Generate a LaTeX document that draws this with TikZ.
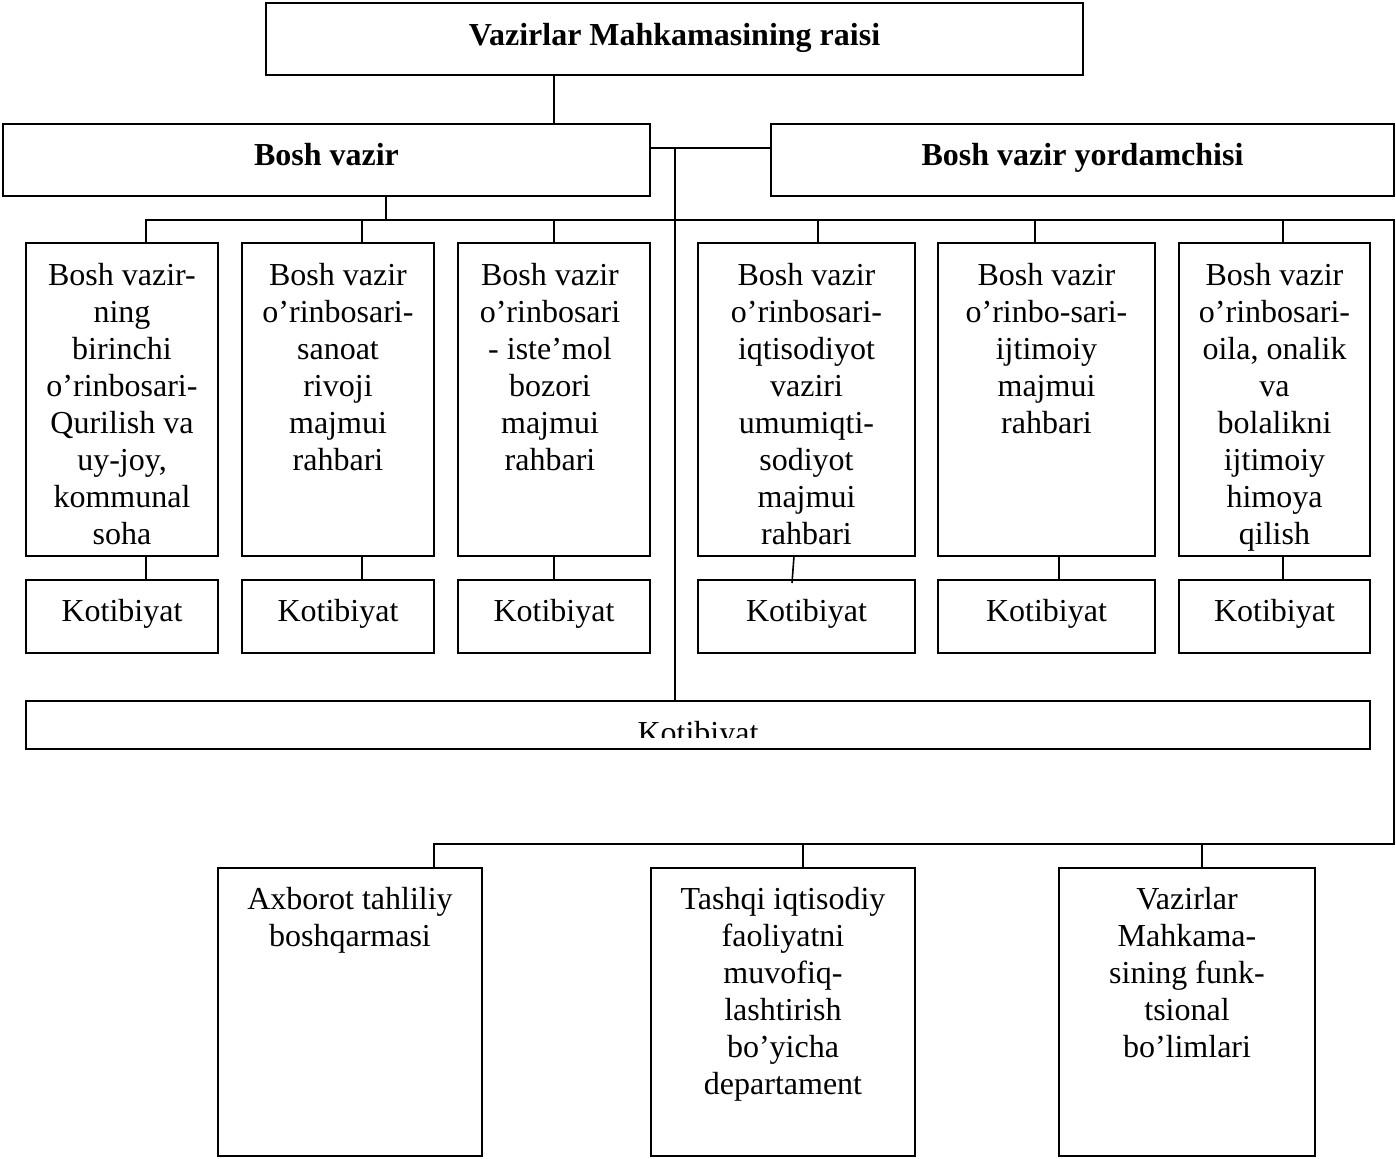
\documentclass[tikz,border=0pt]{standalone}
\usepackage{fontspec}
\setmainfont{Liberation Serif}
\begin{document}
\begin{tikzpicture}[x=1pt,y=-1pt,line width=1.6pt,
  box/.style={draw,rectangle,inner sep=0pt,outer sep=0pt},
  txt/.style={anchor=north,align=center,inner sep=0pt,font=\fontsize{32}{37}\selectfont},
  one/.style={anchor=base,inner sep=0pt,font=\fontsize{32}{37}\selectfont},
  bold/.style={anchor=base,inner sep=0pt,font=\fontsize{32}{37}\selectfont\bfseries},
  link/.style={line width=1.6pt}]
\useasboundingbox (0,0) rectangle (1396,1158);
% top level
\node[box,minimum width=817pt,minimum height=72pt] (top) at (674.5,39) {};
\node[bold] (toptxt) at (674.5,46) {Vazirlar Mahkamasining raisi};
\node[box,minimum width=647pt,minimum height=72pt] (bv) at (326.5,160) {};
\node[bold] (bvtxt) at (326.5,166) {Bosh vazir};
\node[box,minimum width=623pt,minimum height=72pt] (bvy) at (1082.5,160) {};
\node[bold] (bvytxt) at (1082.5,166) {Bosh vazir yordamchisi};
% deputies
\node[box,minimum width=192pt,minimum height=313pt] (b1) at (122,399.5) {};
\node[box,minimum width=192pt,minimum height=313pt] (b2) at (338,399.5) {};
\node[box,minimum width=192pt,minimum height=313pt] (b3) at (554,399.5) {};
\node[box,minimum width=217pt,minimum height=313pt] (b4) at (806.5,399.5) {};
\node[box,minimum width=217pt,minimum height=313pt] (b5) at (1046.5,399.5) {};
\node[box,minimum width=191pt,minimum height=313pt] (b6) at (1274.5,399.5) {};
\node[txt] (t1) at ([yshift=-19pt]b1.north) {Bosh vazir-\\ning\\birinchi\\o’rinbosari-\\Qurilish va\\uy-joy,\\kommunal\\soha};
\node[txt] (t2) at ([yshift=-19pt]b2.north) {Bosh vazir\\o’rinbosari-\\sanoat\\rivoji\\majmui\\rahbari};
\node[txt] (t3) at ([xshift=-4pt,yshift=-19pt]b3.north) {Bosh vazir\\o’rinbosari\\- iste’mol\\bozori\\majmui\\rahbari};
\node[txt] (t4) at ([yshift=-19pt]b4.north) {Bosh vazir\\o’rinbosari-\\iqtisodiyot\\vaziri\\umumiqti-\\sodiyot\\majmui\\rahbari};
\node[txt] (t5) at ([yshift=-19pt]b5.north) {Bosh vazir\\o’rinbo-sari-\\ijtimoiy\\majmui\\rahbari};
\node[txt] (t6) at ([yshift=-19pt]b6.north) {Bosh vazir\\o’rinbosari-\\oila, onalik\\va\\bolalikni\\ijtimoiy\\himoya\\qilish};
% secretariats
\node[box,minimum width=192pt,minimum height=73pt] (k1) at (122,616.5) {};
\node[box,minimum width=192pt,minimum height=73pt] (k2) at (338,616.5) {};
\node[box,minimum width=192pt,minimum height=73pt] (k3) at (554,616.5) {};
\node[box,minimum width=217pt,minimum height=73pt] (k4) at (806.5,616.5) {};
\node[box,minimum width=217pt,minimum height=73pt] (k5) at (1046.5,616.5) {};
\node[box,minimum width=191pt,minimum height=73pt] (k6) at (1274.5,616.5) {};
\node[one] (kt1) at (122,621) {Kotibiyat};
\node[one] (kt2) at (338,621) {Kotibiyat};
\node[one] (kt3) at (554,621) {Kotibiyat};
\node[one] (kt4) at (806.5,621) {Kotibiyat};
\node[one] (kt5) at (1046.5,621) {Kotibiyat};
\node[one] (kt6) at (1274.5,621) {Kotibiyat};
% wide secretariat
\node[box,minimum width=1344pt,minimum height=48pt] (kw) at (698,725) {};
\begin{scope}
\clip (0,700) rectangle (1396,737);
\node[one] (kwt) at (698,743) {Kotibiyat};
\end{scope}
% bottom units
\node[box,minimum width=264pt,minimum height=288pt] (ba) at (350,1012) {};
\node[box,minimum width=264pt,minimum height=288pt] (bb) at (783,1012) {};
\node[box,minimum width=256pt,minimum height=288pt] (bc) at (1187,1012) {};
\node[txt] (ta) at ([yshift=-18pt]ba.north) {Axborot tahliliy\\boshqarmasi};
\node[txt] (tb) at ([yshift=-18pt]bb.north) {Tashqi iqtisodiy\\faoliyatni\\muvofiq-\\lashtirish\\bo’yicha\\departament};
\node[txt] (tc) at ([yshift=-18pt]bc.north) {Vazirlar\\Mahkama-\\sining funk-\\tsional\\bo’limlari};
% coordinates
\coordinate (c554) at (554,0);
\coordinate (r148) at (0,148);
\coordinate (c675) at (675,148);
\coordinate (c386) at (386,220);
\coordinate (busL) at (146,220);
\coordinate (j2) at (362,220);
\coordinate (j3) at (554,220);
\coordinate (j4) at (818,220);
\coordinate (j5) at (1035,220);
\coordinate (j6) at (1283,220);
\coordinate (busR) at (1394,220);
\coordinate (busB) at (1394,844);
\coordinate (busBL) at (434,844);
\coordinate (jb) at (803,844);
\coordinate (jc) at (1202,844);
\coordinate (s1) at (146,0);
\coordinate (s2) at (362,0);
\coordinate (s3) at (554,0);
\coordinate (s4) at (794,0);
\coordinate (s4e) at (792,583);
\coordinate (s5) at (1059,0);
\coordinate (s6) at (1283,0);
% connectors
\draw[link] (top.south -| c554) -- (bv.north -| c554);
\draw[link] (bv.east |- r148) -- (bvy.west |- r148);
\draw[link] (c675) -- (kw.north -| c675);
\draw[link] (bv.south -| c386) -- (c386);
\draw[link] (b1.north -| busL) -- (busL) -- (busR) -- (busB) -- (busBL) -- (ba.north -| busBL);
\draw[link] (j2) -- (b2.north -| j2);
\draw[link] (j3) -- (b3.north -| j3);
\draw[link] (j4) -- (b4.north -| j4);
\draw[link] (j5) -- (b5.north -| j5);
\draw[link] (j6) -- (b6.north -| j6);
\draw[link] (jb) -- (bb.north -| jb);
\draw[link] (jc) -- (bc.north -| jc);
\draw[link] (b1.south -| s1) -- (k1.north -| s1);
\draw[link] (b2.south -| s2) -- (k2.north -| s2);
\draw[link] (b3.south -| s3) -- (k3.north -| s3);
\draw[link] (b4.south -| s4) -- (s4e);
\draw[link] (b5.south -| s5) -- (k5.north -| s5);
\draw[link] (b6.south -| s6) -- (k6.north -| s6);
\end{tikzpicture}
\end{document}
